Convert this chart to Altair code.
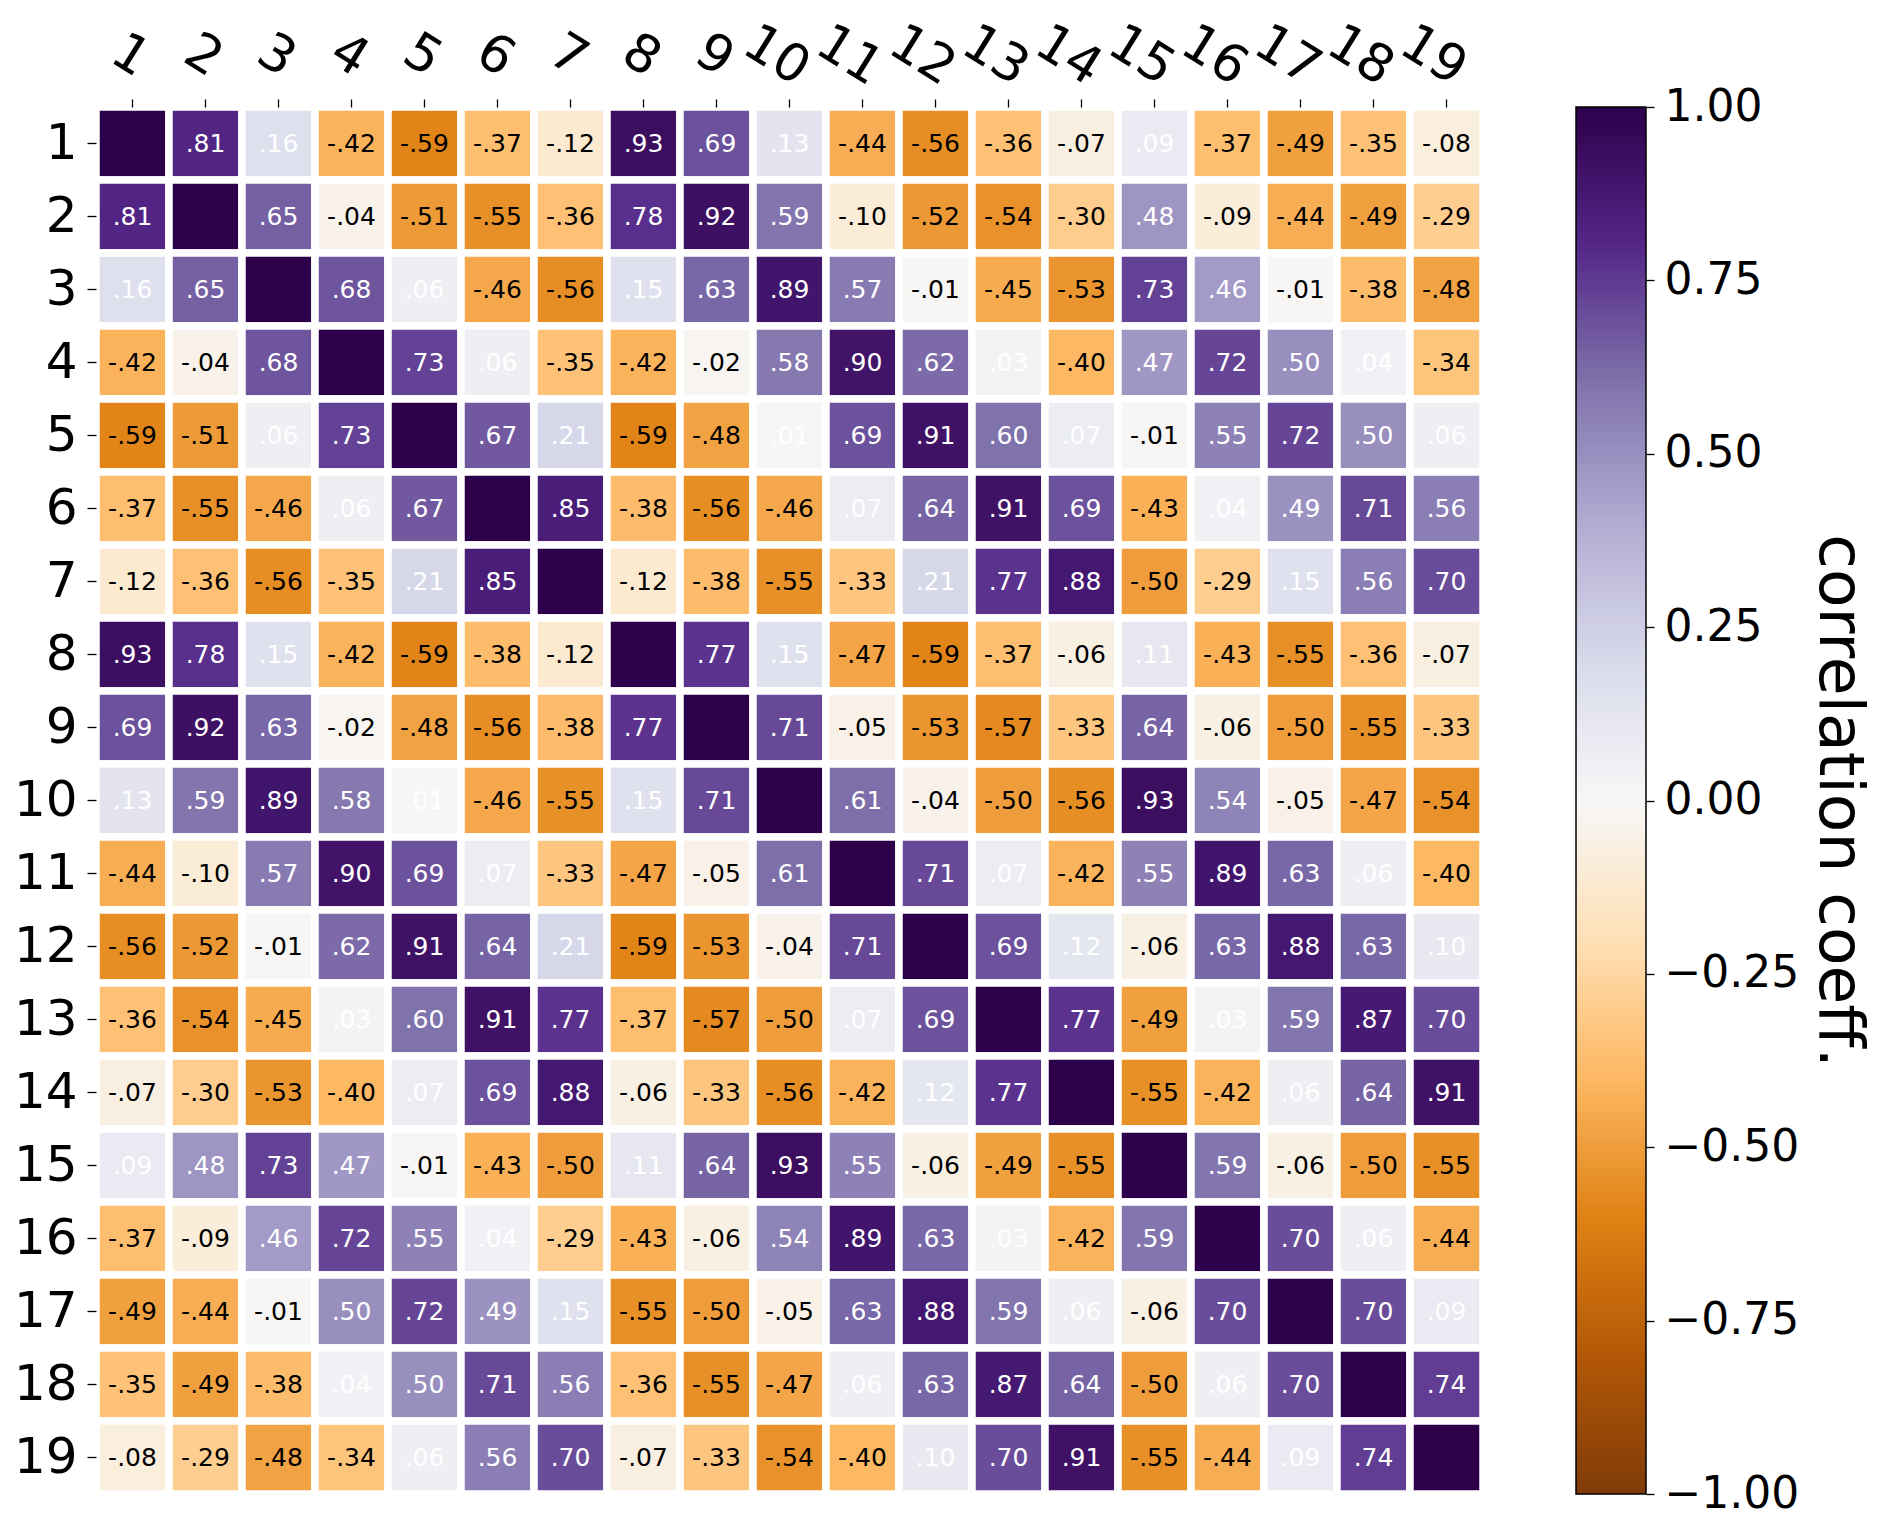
import altair as alt
import pandas as pd

# variable labels
names = [str(i) for i in range(1, 20)]

# correlation matrix, one list per row
r01 = [1.00, .81, .16, -.42, -.59, -.37, -.12, .93, .69, .13, -.44, -.56, -.36, -.07, .09, -.37, -.49, -.35, -.08]
r02 = [.81, 1.00, .65, -.04, -.51, -.55, -.36, .78, .92, .59, -.10, -.52, -.54, -.30, .48, -.09, -.44, -.49, -.29]
r03 = [.16, .65, 1.00, .68, .06, -.46, -.56, .15, .63, .89, .57, -.01, -.45, -.53, .73, .46, -.01, -.38, -.48]
r04 = [-.42, -.04, .68, 1.00, .73, .06, -.35, -.42, -.02, .58, .90, .62, .03, -.40, .47, .72, .50, .04, -.34]
r05 = [-.59, -.51, .06, .73, 1.00, .67, .21, -.59, -.48, .01, .69, .91, .60, .07, -.01, .55, .72, .50, .06]
r06 = [-.37, -.55, -.46, .06, .67, 1.00, .85, -.38, -.56, -.46, .07, .64, .91, .69, -.43, .04, .49, .71, .56]
r07 = [-.12, -.36, -.56, -.35, .21, .85, 1.00, -.12, -.38, -.55, -.33, .21, .77, .88, -.50, -.29, .15, .56, .70]
r08 = [.93, .78, .15, -.42, -.59, -.38, -.12, 1.00, .77, .15, -.47, -.59, -.37, -.06, .11, -.43, -.55, -.36, -.07]
r09 = [.69, .92, .63, -.02, -.48, -.56, -.38, .77, 1.00, .71, -.05, -.53, -.57, -.33, .64, -.06, -.50, -.55, -.33]
r10 = [.13, .59, .89, .58, .01, -.46, -.55, .15, .71, 1.00, .61, -.04, -.50, -.56, .93, .54, -.05, -.47, -.54]
r11 = [-.44, -.10, .57, .90, .69, .07, -.33, -.47, -.05, .61, 1.00, .71, .07, -.42, .55, .89, .63, .06, -.40]
r12 = [-.56, -.52, -.01, .62, .91, .64, .21, -.59, -.53, -.04, .71, 1.00, .69, .12, -.06, .63, .88, .63, .10]
r13 = [-.36, -.54, -.45, .03, .60, .91, .77, -.37, -.57, -.50, .07, .69, 1.00, .77, -.49, .03, .59, .87, .70]
r14 = [-.07, -.30, -.53, -.40, .07, .69, .88, -.06, -.33, -.56, -.42, .12, .77, 1.00, -.55, -.42, .06, .64, .91]
r15 = [.09, .48, .73, .47, -.01, -.43, -.50, .11, .64, .93, .55, -.06, -.49, -.55, 1.00, .59, -.06, -.50, -.55]
r16 = [-.37, -.09, .46, .72, .55, .04, -.29, -.43, -.06, .54, .89, .63, .03, -.42, .59, 1.00, .70, .06, -.44]
r17 = [-.49, -.44, -.01, .50, .72, .49, .15, -.55, -.50, -.05, .63, .88, .59, .06, -.06, .70, 1.00, .70, .09]
r18 = [-.35, -.49, -.38, .04, .50, .71, .56, -.36, -.55, -.47, .06, .63, .87, .64, -.50, .06, .70, 1.00, .74]
r19 = [-.08, -.29, -.48, -.34, .06, .56, .70, -.07, -.33, -.54, -.40, .10, .70, .91, -.55, -.44, .09, .74, 1.00]
rows = [r01, r02, r03, r04, r05, r06, r07, r08, r09, r10,
        r11, r12, r13, r14, r15, r16, r17, r18, r19]

# colorbar range and ticks
cb_low = [-1.0]
cb_high = [1.0]
cb_ticks = [-1.0, -0.75, -0.5, -0.25, 0.0, 0.25, 0.5, 0.75, 1.0]

# PuOr palette (brown -> purple)
puor = ["#7f3b08", "#b35806", "#e08214", "#fdb863", "#fee0b6", "#f7f7f7",
        "#d8daeb", "#b2abd2", "#8073ac", "#542788", "#2d004b"]
puor_dom = [-1.0, -0.8, -0.6, -0.4, -0.2, 0.0, 0.2, 0.4, 0.6, 0.8, 1.0]


def fmt(v, i, j):
    if i == j:
        return ""
    s = f"{v:.2f}"
    return s.replace("0.", ".", 1)


recs = []
for i, r in enumerate(rows):
    for j, v in enumerate(r):
        recs.append({"row": names[i], "col": names[j], "value": v, "label": fmt(v, i, j)})
df = pd.DataFrame(recs)

FONT = "DejaVu Sans"
SIZE = 1387

color_scale = alt.Scale(domain=puor_dom, range=puor, interpolate="rgb")

base = alt.Chart(df).encode(
    x=alt.X("col:O", sort=names, title=None,
            scale=alt.Scale(paddingInner=0, paddingOuter=0),
            axis=alt.Axis(orient="top", labelAngle=32, labelAlign="center",
                          labelBaseline="middle", labelPadding=44,
                          labelOffset=alt.condition("length(datum.label) > 1", alt.value(-13), alt.value(-2)),
                          labelFontSize=52, labelFont=FONT, labelColor="black",
                          tickSize=8, tickWidth=1.3, tickColor="black",
                          domain=False, grid=False)),
    y=alt.Y("row:O", sort=names, title=None,
            scale=alt.Scale(paddingInner=0, paddingOuter=0),
            axis=alt.Axis(labelFontSize=50, labelFont=FONT, labelColor="black",
                          labelPadding=10, tickSize=9, tickWidth=1.3, tickColor="black",
                          domain=False, grid=False)),
)

cells = base.mark_rect(stroke="white", strokeWidth=7.5).encode(
    color=alt.Color("value:Q", scale=color_scale, legend=None)
)
texts = base.mark_text(font=FONT, fontSize=25, baseline="middle", align="center").encode(
    text="label:N",
    color=alt.condition("datum.value > 0", alt.value("white"), alt.value("black")),
)
heat = alt.layer(cells, texts).properties(width=SIZE, height=SIZE)

grad = alt.LinearGradient(
    gradient="linear",
    stops=[alt.GradientStop(color=c, offset=(d + 1) / 2) for c, d in zip(puor, puor_dom)],
    x1=0, x2=0, y1=1, y2=0,
)
cb_df = pd.DataFrame({"low": cb_low, "high": cb_high})
bar = alt.Chart(cb_df).mark_rect(fill=grad, stroke="black", strokeWidth=1.5).encode(
    y=alt.Y("low:Q", scale=alt.Scale(domain=[-1, 1], nice=False, zero=False),
            axis=alt.Axis(orient="right", values=cb_ticks, format=".2f",
                          labelFontSize=44, labelFont=FONT, labelColor="black",
                          labelPadding=10, tickSize=8, tickWidth=1.3, tickColor="black",
                          labelOverlap=False, labelFlush=False,
                          domain=False, grid=False,
                          title="correlation coeff.", titleFont=FONT, titleFontSize=63,
                          titleFontWeight="normal", titleColor="black", titlePadding=8)),
    y2="high:Q",
).properties(width=70, height=SIZE)

chart = alt.hconcat(heat, bar, spacing=93, bounds="flush").configure_view(
    strokeOpacity=0
).properties(
    background="white",
    padding={"top": 7, "left": 5, "right": 10, "bottom": 5},
)

chart.save("out.html", embed_options={"renderer": "svg", "actions": False})
